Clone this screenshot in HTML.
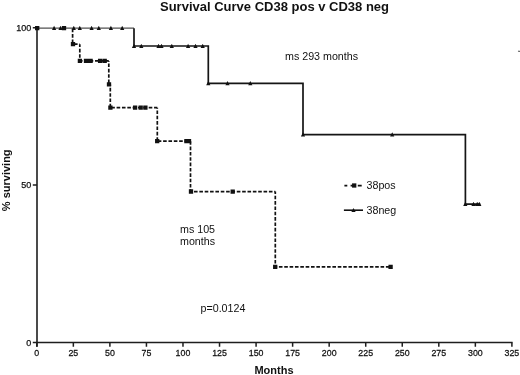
<!DOCTYPE html>
<html><head><meta charset="utf-8"><style>
html,body{margin:0;padding:0;background:#fff;}
body{width:520px;height:375px;overflow:hidden;position:relative;}
svg{position:absolute;left:0;top:0;filter:blur(0.3px);}
text{font-family:"Liberation Sans",sans-serif;fill:#111;}
</style></head><body>
<svg width="520" height="375" viewBox="0 0 520 375">
<rect width="520" height="375" fill="#fff"/>
<text x="160" y="10.6" font-size="13" font-weight="bold">Survival Curve CD38 pos v CD38 neg</text>
<g stroke="#1e1e1e" stroke-width="1.6" fill="none">
<path d="M37 27.7 V346.8 M36.1 342.5 H512.6"/>
<path d="M36.80 342.5 V346.8 M73.35 342.5 V346.8 M109.89 342.5 V346.8 M146.44 342.5 V346.8 M182.98 342.5 V346.8 M219.53 342.5 V346.8 M256.08 342.5 V346.8 M292.62 342.5 V346.8 M329.17 342.5 V346.8 M365.72 342.5 V346.8 M402.26 342.5 V346.8 M438.81 342.5 V346.8 M475.35 342.5 V346.8 M511.90 342.5 V346.8 M32.8 342.50 H37 M32.8 185.10 H37 M32.8 27.70 H37 " stroke-width="1.5"/>
</g>
<g font-size="9" stroke="#111" stroke-width="0.25"><text x="31.2" y="345.70" text-anchor="end">0</text><text x="31.2" y="188.30" text-anchor="end">50</text><text x="31.2" y="30.90" text-anchor="end">100</text></g>
<g font-size="9.6" stroke="#111" stroke-width="0.25"><text transform="translate(36.80 356.2) scale(0.92 1)" text-anchor="middle">0</text><text transform="translate(73.35 356.2) scale(0.92 1)" text-anchor="middle">25</text><text transform="translate(109.89 356.2) scale(0.92 1)" text-anchor="middle">50</text><text transform="translate(146.44 356.2) scale(0.92 1)" text-anchor="middle">75</text><text transform="translate(182.98 356.2) scale(0.92 1)" text-anchor="middle">100</text><text transform="translate(219.53 356.2) scale(0.92 1)" text-anchor="middle">125</text><text transform="translate(256.08 356.2) scale(0.92 1)" text-anchor="middle">150</text><text transform="translate(292.62 356.2) scale(0.92 1)" text-anchor="middle">175</text><text transform="translate(329.17 356.2) scale(0.92 1)" text-anchor="middle">200</text><text transform="translate(365.72 356.2) scale(0.92 1)" text-anchor="middle">225</text><text transform="translate(402.26 356.2) scale(0.92 1)" text-anchor="middle">250</text><text transform="translate(438.81 356.2) scale(0.92 1)" text-anchor="middle">275</text><text transform="translate(475.35 356.2) scale(0.92 1)" text-anchor="middle">300</text><text transform="translate(511.90 356.2) scale(0.92 1)" text-anchor="middle">325</text></g>
<text x="274" y="373.6" font-size="11" font-weight="bold" text-anchor="middle">Months</text>
<text transform="translate(10.3 180.3) rotate(-90)" font-size="11" font-weight="bold" text-anchor="middle">% surviving</text>
<path d="M37 28.15 H134" stroke="#505050" stroke-width="1.35" fill="none"/>
<path d="M134 28.15 V46.0 H208.3 V83.3 H303.0 V134.65 H465.4 V204.1 H480.3" stroke="#151515" stroke-width="1.7" fill="none"/>
<g stroke="#111" stroke-width="1.7" fill="none" stroke-dasharray="3.6 1.75">
<path d="M108.8 84.4 H110.3" stroke-dasharray="none"/>
<path d="M72.6 28.15 V44.2" stroke-dashoffset="4.75"/><path d="M72.6 44.2 H79.8" stroke-dashoffset="3.95"/><path d="M79.8 44.2 V60.9" stroke-dashoffset="0.75"/><path d="M79.8 60.9 H108.8" stroke-dashoffset="0.85"/><path d="M108.8 60.9 V84.4" stroke-dashoffset="2.75"/><path d="M110.3 84.4 V107.7" stroke-dashoffset="1.95"/><path d="M110.3 107.7 H157.3" stroke-dashoffset="4.40"/><path d="M157.3 107.7 V141.1" stroke-dashoffset="2.65"/><path d="M157.3 141.1 H190.5" stroke-dashoffset="4.90"/><path d="M190.5 141.1 V191.6" stroke-dashoffset="5.25"/><path d="M190.5 191.6 H275.3" stroke-dashoffset="1.85"/><path d="M275.3 191.6 V266.85" stroke-dashoffset="1.25"/><path d="M275.3 266.85 H390.6" stroke-dashoffset="1.75"/>
</g>
<path d="M52.00 30.05 L54.10 25.85 L56.20 30.05 Z M58.40 30.05 L60.50 25.85 L62.60 30.05 Z M71.70 30.05 L73.80 25.85 L75.90 30.05 Z M77.70 30.05 L79.80 25.85 L81.90 30.05 Z M89.50 30.05 L91.60 25.85 L93.70 30.05 Z M96.70 30.05 L98.80 25.85 L100.90 30.05 Z M108.80 30.05 L110.90 25.85 L113.00 30.05 Z M120.10 30.05 L122.20 25.85 L124.30 30.05 Z M131.90 47.90 L134.00 43.70 L136.10 47.90 Z M139.20 47.90 L141.30 43.70 L143.40 47.90 Z M156.40 47.90 L158.50 43.70 L160.60 47.90 Z M159.40 47.90 L161.50 43.70 L163.60 47.90 Z M169.70 47.90 L171.80 43.70 L173.90 47.90 Z M186.00 47.90 L188.10 43.70 L190.20 47.90 Z M193.40 47.90 L195.50 43.70 L197.60 47.90 Z M200.60 47.90 L202.70 43.70 L204.80 47.90 Z M206.20 85.20 L208.30 81.00 L210.40 85.20 Z M225.40 85.20 L227.50 81.00 L229.60 85.20 Z M248.20 85.20 L250.30 81.00 L252.40 85.20 Z M300.90 136.55 L303.00 132.35 L305.10 136.55 Z M390.10 136.55 L392.20 132.35 L394.30 136.55 Z M463.20 206.00 L465.30 201.80 L467.40 206.00 Z M471.40 206.00 L473.50 201.80 L475.60 206.00 Z M475.10 206.00 L477.20 201.80 L479.30 206.00 Z M477.20 206.00 L479.30 201.80 L481.40 206.00 Z" fill="#111"/>
<path d="M35.05 26.00 h4.30 v4.30 h-4.30 Z M61.85 26.00 h4.30 v4.30 h-4.30 Z M70.85 42.05 h4.30 v4.30 h-4.30 Z M77.75 58.75 h4.30 v4.30 h-4.30 Z M83.85 58.75 h4.30 v4.30 h-4.30 Z M86.15 58.75 h4.30 v4.30 h-4.30 Z M88.45 58.75 h4.30 v4.30 h-4.30 Z M97.95 58.75 h4.30 v4.30 h-4.30 Z M102.55 58.75 h4.30 v4.30 h-4.30 Z M106.85 82.25 h4.30 v4.30 h-4.30 Z M108.25 105.55 h4.30 v4.30 h-4.30 Z M132.95 105.55 h4.30 v4.30 h-4.30 Z M138.55 105.55 h4.30 v4.30 h-4.30 Z M143.25 105.55 h4.30 v4.30 h-4.30 Z M155.05 138.95 h4.30 v4.30 h-4.30 Z M184.25 139.05 h4.30 v4.30 h-4.30 Z M186.85 139.05 h4.30 v4.30 h-4.30 Z M188.85 189.35 h4.30 v4.30 h-4.30 Z M230.55 189.45 h4.30 v4.30 h-4.30 Z M273.05 264.70 h4.30 v4.30 h-4.30 Z M388.45 264.70 h4.30 v4.30 h-4.30 Z" fill="#111"/>
<g font-size="10.7">
<text x="285" y="60.2">ms 293 months</text>
<text x="180" y="232.5">ms 105</text>
<text x="180" y="244.6">months</text>
<text x="200.5" y="311.5">p=0.0124</text>
<text x="366.5" y="188.8">38pos</text>
<text x="366.5" y="213.7">38neg</text>
</g>
<path d="M344.4 185.6 H347.3 M350.6 185.6 H356 M357.8 185.6 H361.7" stroke="#111" stroke-width="1.6" fill="none"/>
<path d="M352.05 183.35 h4.30 v4.30 h-4.30 Z" fill="#111"/>
<path d="M343.9 210.2 H363" stroke="#111" stroke-width="1.6" fill="none"/>
<path d="M351.40 212.10 L353.50 207.90 L355.60 212.10 Z" fill="#111"/>
<ellipse cx="519" cy="51.3" rx="1.1" ry="0.8" fill="#666"/>
</svg>
</body></html>
